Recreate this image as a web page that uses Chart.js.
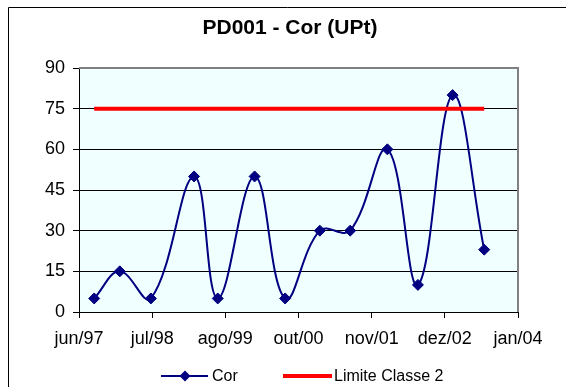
<!DOCTYPE html>
<html>
<head>
<meta charset="utf-8">
<title>PD001 - Cor</title>
<script src="https://cdn.jsdelivr.net/npm/chart.js@4.4.0/dist/chart.umd.min.js"></script>
<style>
  html, body { margin: 0; padding: 0; background: #fff; overflow: hidden; }
  canvas { display: block; }
</style>
</head>
<body>
<canvas id="corChart" width="566" height="387"></canvas>
<script>
// sampling dates and measured colour (UPt)
const sampleDates = [
    '1997-08-28', '1998-01-17', '1998-07-08', '1999-03-04', '1999-07-13',
    '2000-02-02', '2000-07-20', '2001-01-28', '2001-07-15', '2002-02-06',
    '2002-07-25', '2003-02-02', '2003-07-27'
];
const corValues = [5, 15, 5, 50, 5, 50, 5, 30, 30, 60, 10, 80, 23];

// class 2 limit
const limiteValue = 75;

// date axis: first tick and spacing in days
const axisStart = '1997-06-05';
const tickStepDays = 405;
const xTickLabels = ['jun/97', 'jul/98', 'ago/99', 'out/00', 'nov/01', 'dez/02', 'jan/04'];
const yMin = 0, yMax = 90, yStep = 15;

const FONT = "'Liberation Sans', Arial, sans-serif";
const NAVY = '#000080';
const RED = '#FF0000';

// days since the axis origin
const toDays = d => (Date.parse(d) - Date.parse(axisStart)) / 864e5;
const tickDays = xTickLabels.map((_, i) => i * tickStepDays);

const corPoints = sampleDates.map((d, i) => ({ x: toDays(d), y: corValues[i] }));
const limitePoints = [
    { x: toDays(sampleDates[0]), y: limiteValue },
    { x: toDays(sampleDates[sampleDates.length - 1]), y: limiteValue }
];

// frame, plot background, title and legend (Excel-like look)
const excelLook = {
    id: 'excelLook',
    beforeDraw(chart) {
        const { ctx, chartArea: a, width, height } = chart;
        ctx.save();
        ctx.fillStyle = '#fff';
        ctx.fillRect(0, 0, width, height);
        ctx.strokeStyle = '#000';
        ctx.lineWidth = 1;
        ctx.beginPath();
        ctx.moveTo(8.5, height);
        ctx.lineTo(8.5, 7.5);
        ctx.lineTo(width, 7.5);
        ctx.stroke();
        ctx.fillStyle = '#F0FFFF';
        ctx.fillRect(a.left, a.top, a.right - a.left, a.bottom - a.top);
        ctx.restore();
    },
    beforeDatasetsDraw(chart) {
        const { ctx, chartArea: a } = chart;
        ctx.save();
        ctx.strokeStyle = '#808080';
        ctx.lineWidth = 2;
        ctx.beginPath();
        ctx.moveTo(a.left, a.top);
        ctx.lineTo(a.right, a.top);
        ctx.lineTo(a.right, a.bottom);
        ctx.stroke();
        ctx.restore();
    },
    afterDraw(chart) {
        const { ctx } = chart;
        ctx.save();
        ctx.fillStyle = '#000';
        ctx.textBaseline = 'middle';

        ctx.font = 'bold 21px ' + FONT;
        ctx.textAlign = 'center';
        ctx.fillText('PD001 - Cor (UPt)', 290, 28);

        // legend
        const ly = 376;
        ctx.font = '16px ' + FONT;
        ctx.textAlign = 'left';

        ctx.strokeStyle = NAVY;
        ctx.lineWidth = 2;
        ctx.beginPath();
        ctx.moveTo(161, ly);
        ctx.lineTo(208, ly);
        ctx.stroke();
        ctx.fillStyle = NAVY;
        ctx.beginPath();
        ctx.moveTo(185, ly - 5.5);
        ctx.lineTo(190.5, ly);
        ctx.lineTo(185, ly + 5.5);
        ctx.lineTo(179.5, ly);
        ctx.closePath();
        ctx.fill();
        ctx.fillStyle = '#000';
        ctx.fillText('Cor', 212, ly + 1);

        ctx.strokeStyle = RED;
        ctx.lineWidth = 4;
        ctx.beginPath();
        ctx.moveTo(283, ly);
        ctx.lineTo(332, ly);
        ctx.stroke();
        ctx.fillText('Limite Classe 2', 334, ly + 1);
        ctx.restore();
    }
};

new Chart(document.getElementById('corChart'), {
    type: 'line',
    data: {
        datasets: [
            {
                label: 'Cor',
                data: corPoints,
                borderColor: NAVY,
                backgroundColor: NAVY,
                borderWidth: 2,
                tension: 0.4,
                pointStyle: 'rectRot',
                pointRadius: 5.5,
                pointBorderWidth: 1,
                order: 1
            },
            {
                label: 'Limite Classe 2',
                data: limitePoints,
                borderColor: RED,
                borderWidth: 4,
                pointRadius: 0,
                order: 0
            }
        ]
    },
    options: {
        responsive: false,
        animation: false,
        devicePixelRatio: 1,
        layout: { padding: { left: 0, right: 48, top: 68, bottom: 35 } },
        plugins: {
            legend: { display: false },
            title: { display: false },
            tooltip: { enabled: false }
        },
        scales: {
            x: {
                type: 'linear',
                min: 0,
                max: tickDays[tickDays.length - 1],
                afterBuildTicks: s => { s.ticks = tickDays.map(v => ({ value: v })); },
                afterFit: s => { s.height = 40; },
                grid: { drawOnChartArea: false, color: '#000', tickLength: 6 },
                border: { color: '#000', width: 1 },
                ticks: {
                    autoSkip: false,
                    maxRotation: 0,
                    padding: 10,
                    color: '#000',
                    font: { family: FONT, size: 18 },
                    callback: (v, i) => xTickLabels[i]
                }
            },
            y: {
                min: yMin,
                max: yMax,
                afterFit: s => { s.width = 79; },
                grid: {
                    color: c => (c.tick && c.tick.value === yMax) ? '#808080' : '#000',
                    tickColor: '#000',
                    tickLength: 6,
                    lineWidth: 1
                },
                border: { color: '#000', width: 1 },
                ticks: {
                    stepSize: yStep,
                    padding: 8,
                    color: '#000',
                    font: { family: FONT, size: 18 }
                }
            }
        }
    },
    plugins: [excelLook]
});
</script>
</body>
</html>
